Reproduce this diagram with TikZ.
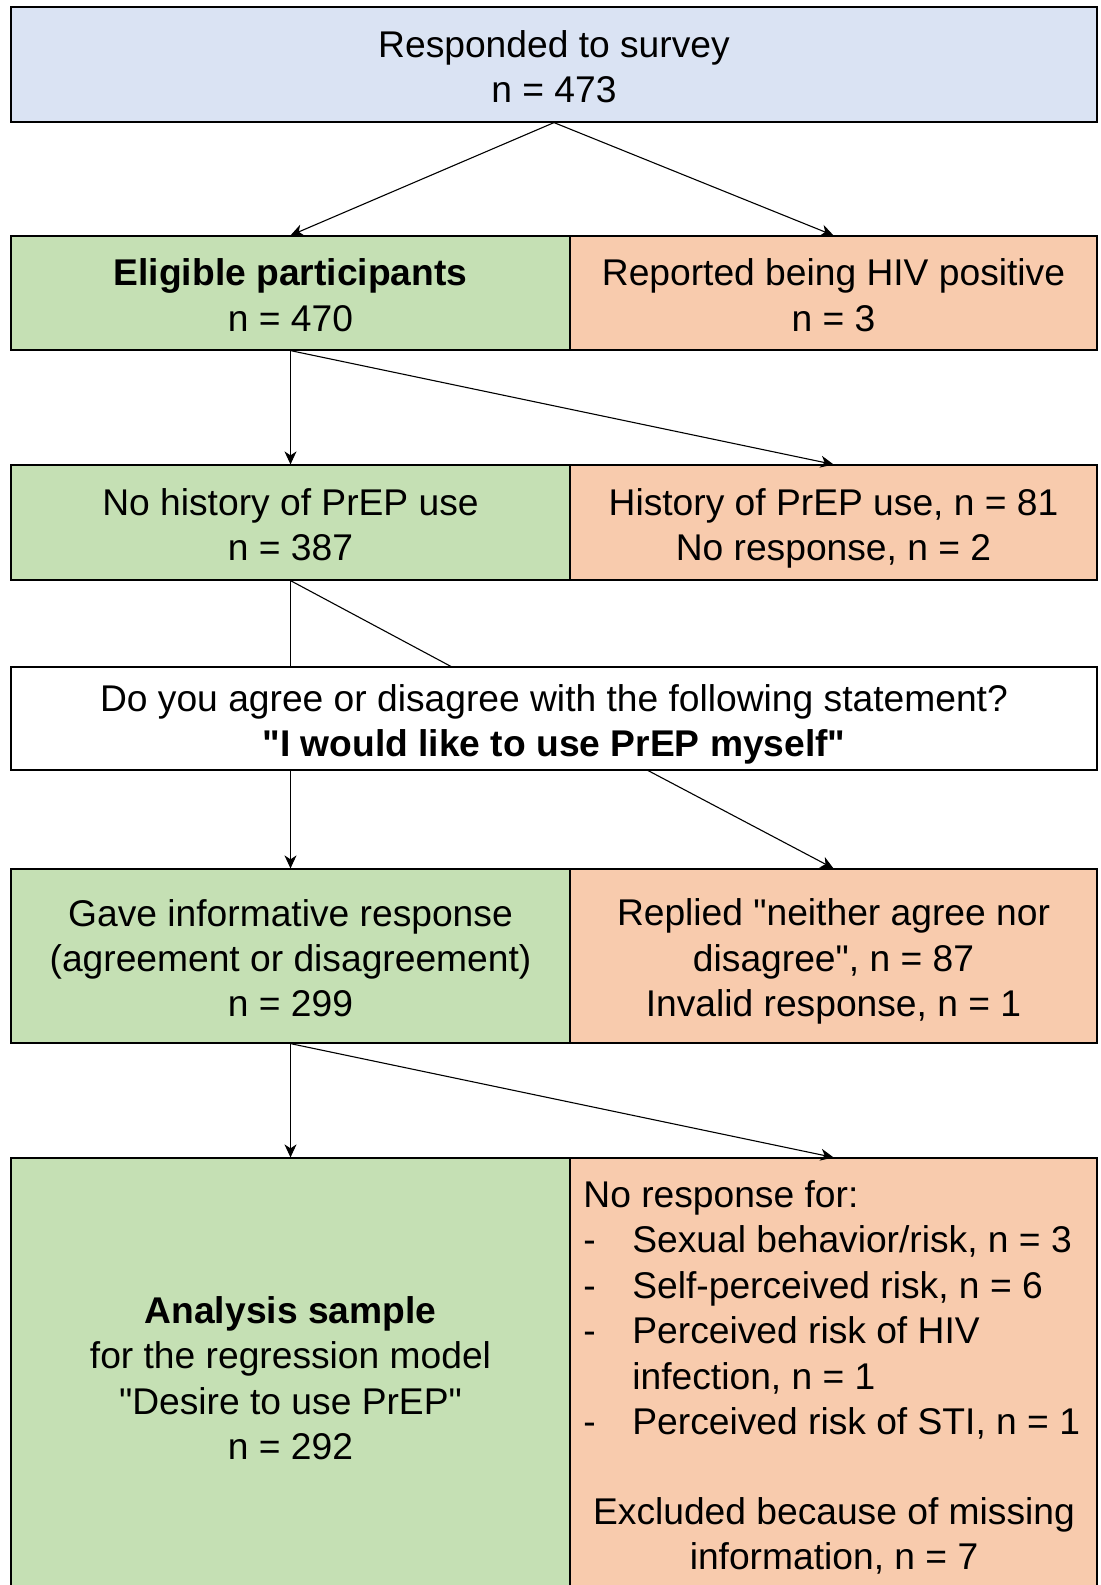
\documentclass[tikz,border=0pt]{standalone}
\usepackage{fontspec}
\setmainfont{Liberation Sans}
\usetikzlibrary{arrows.meta}
\definecolor{surveyblue}{HTML}{DAE3F3}
\definecolor{keepgreen}{HTML}{C5E0B4}
\definecolor{dropred}{HTML}{F8CBAD}
\newcommand{\dq}{\textquotedbl}
\newcommand{\linebx}{\rule[-3.6pt]{0pt}{22.7pt}}

\begin{document}
\begin{tikzpicture}[x=0.5pt,y=-0.5pt,
    box/.style={draw=black,line width=0.6pt,inner sep=0pt,align=center,
      font=\fontsize{18.6}{22.7}\selectfont,execute at end node=\linebx},
    topbox/.style={box,fill=surveyblue},
    keepbox/.style={box,fill=keepgreen},
    dropbox/.style={box,fill=dropred},
    askbox/.style={box,fill=white},
    txt/.style={inner sep=0pt,font=\fontsize{18.6}{22.7}\selectfont},
    flow/.style={line width=0.55pt,-{Stealth[length=6.5pt,width=6pt,inset=2pt]}},
    plain/.style={line width=0.55pt}]
  \useasboundingbox (0,0) rectangle (1101,1585);
  \clip (0,0) rectangle (1101,1585);

  \node[topbox,minimum width=543pt,minimum height=57.5pt] (survey) at (554,64.5)
    {\linebx Responded to survey\\n = 473};

  \node[keepbox,minimum width=279.5pt,minimum height=57pt] (elig) at (290.5,293)
    {\linebx\textbf{Eligible participants}\\n = 470};
  \node[dropbox,minimum width=263.5pt,minimum height=57pt] (hivpos) at (833.5,293)
    {\linebx Reported being HIV positive\\n = 3};

  \node[keepbox,minimum width=279.5pt,minimum height=57.5pt] (noprep) at (290.5,522.5)
    {\linebx No history of PrEP use\\n = 387};
  \node[dropbox,minimum width=263.5pt,minimum height=57.5pt] (prepuse) at (833.5,522.5)
    {\linebx History of PrEP use, n = 81\\No response, n = 2};

  \node[askbox,minimum width=543pt,minimum height=51.5pt] (ask) at (554,718.5)
    {\linebx Do you agree or disagree with the following statement?\\
     \textbf{\dq I would like to use PrEP myself\dq}};

  \node[keepbox,minimum width=279.5pt,minimum height=87pt] (inform) at (290.5,956)
    {\linebx Gave informative response\\(agreement or disagreement)\\n = 299};
  \node[dropbox,minimum width=263.5pt,minimum height=87pt] (neutral) at (833.5,956)
    {\linebx Replied \dq neither agree nor\\disagree\dq, n = 87\\Invalid response, n = 1};

  \node[keepbox,minimum width=279.5pt,minimum height=218pt] (sample) at (290.5,1376)
    {\linebx\textbf{Analysis sample}\\for the regression model\\\dq Desire to use PrEP\dq\\n = 292};
  \node[dropbox,minimum width=263.5pt,minimum height=218pt] (missing) at (833.5,1376) {};
  \node[txt,anchor=west,align=left] (misslist) at (583,1310)
    {No response for:\\
     \makebox[24.5pt][l]{-}Sexual behavior/risk, n = 3\\
     \makebox[24.5pt][l]{-}Self-perceived risk, n = 6\\
     \makebox[24.5pt][l]{-}Perceived risk of HIV\\
     \hspace*{24.5pt}infection, n = 1\\
     \makebox[24.5pt][l]{-}Perceived risk of STI, n = 1};
  \node[txt,align=center] (missnote) at (834,1536)
    {Excluded because of missing\\information, n = 7};

  % connectors
  \draw[flow] (survey.south) -- (elig.north);
  \draw[flow] (survey.south) -- (hivpos.north);
  \draw[flow] (elig.south) -- (noprep.north);
  \draw[flow] (elig.south) -- (prepuse.north);
  \coordinate (askin) at (452,667);
  \draw[plain] (noprep.south) -- (noprep.south |- ask.north);
  \draw[plain] (noprep.south) -- (askin);
  \coordinate (askout) at (647,770);
  \draw[flow] (ask.south -| inform.north) -- (inform.north);
  \draw[flow] (askout) -- (neutral.north);
  \draw[flow] (inform.south) -- (sample.north);
  \draw[flow] (inform.south) -- (missing.north);
\end{tikzpicture}
\end{document}
